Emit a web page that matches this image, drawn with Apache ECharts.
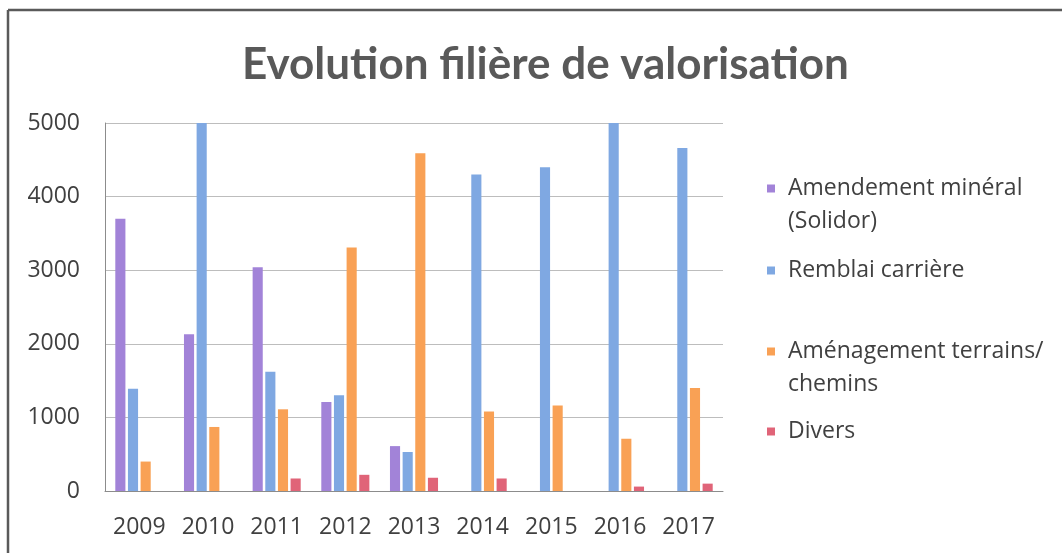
<!DOCTYPE html>
<html>
<head>
<meta charset="utf-8">
<script src="https://cdn.jsdelivr.net/npm/echarts@6/dist/echarts.min.js"></script>
<style>
html,body{margin:0;padding:0;background:#fff;}
#c{width:1062px;height:553px;}
</style>
</head>
<body>
<div id="c"></div>
<script>
const titleText = 'Evolution filière de valorisation';
const years = ['2009','2010','2011','2012','2013','2014','2015','2016','2017'];
const seriesNames = ['Amendement minéral\n(Solidor)', 'Remblai carrière', 'Aménagement terrains/\nchemins', 'Divers'];
const amendement = [3700, 2130, 3040, 1210, 610, null, null, null, null];
const remblai = [1390, 5000, 1620, 1300, 530, 4300, 4400, 5000, 4660];
const amenagement = [400, 870, 1110, 3310, 4590, 1080, 1160, 710, 1400];
const divers = [null, null, 170, 220, 180, 170, null, 60, 100];
const yTicks = [0, 1000, 2000, 3000, 4000, 5000];

const colors = ['#a283d8', '#7fa8e2', '#f9a155', '#e06478'];
const FONT = '"Open Sans", sans-serif';
const lineH = 33;

const chart = echarts.init(document.getElementById('c'), null, {renderer: 'canvas'});

function legendFor(idx, top) {
  const name = seriesNames[idx];
  return {
    data: [name],
    left: 767,
    top: top,
    padding: 0,
    orient: 'vertical',
    itemWidth: 8,
    itemHeight: 8,
    icon: 'rect',
    selectedMode: false,
    formatter: function (n) { return n.indexOf('\n') >= 0 ? ' \n' + n : n; },
    textStyle: {
      fontFamily: FONT,
      fontSize: 23,
      color: '#404040',
      lineHeight: lineH,
      padding: [0, 0, 0, 8]
    }
  };
}

chart.setOption({
  animation: false,
  backgroundColor: '#ffffff',
  color: colors,
  title: {
    text: titleText,
    left: 237,
    top: 38,
    textStyle: {
      fontFamily: 'Lato',
      fontWeight: 'bold',
      fontSize: 44,
      color: '#595959'
    }
  },
  graphic: [
    {type: 'line', shape: {x1: 8, y1: 10, x2: 1062, y2: 10}, style: {stroke: '#5a5a5a', lineWidth: 2.5}},
    {type: 'line', shape: {x1: 8, y1: 10, x2: 8, y2: 553}, style: {stroke: '#5a5a5a', lineWidth: 2.5}}
  ],
  legend: [
    legendFor(0, 139),
    legendFor(1, 254),
    legendFor(2, 302),
    legendFor(3, 415)
  ],
  grid: {left: 105, right: 339, top: 123, bottom: 62, containLabel: false},
  xAxis: {
    type: 'category',
    data: years,
    axisLine: {show: true, lineStyle: {color: '#8c8c8c', width: 1}},
    axisTick: {show: false},
    axisLabel: {fontFamily: FONT, fontSize: 23, color: '#404040', margin: 25}
  },
  yAxis: {
    type: 'value',
    min: yTicks[0],
    max: yTicks[yTicks.length - 1],
    interval: 1000,
    axisLine: {show: true, lineStyle: {color: '#8c8c8c', width: 1}},
    axisTick: {show: false},
    splitLine: {show: true, lineStyle: {color: '#bdbdbd', width: 1}},
    axisLabel: {fontFamily: FONT, fontSize: 23, color: '#404040', margin: 25,
      formatter: function (v) { return String(v); }}
  },
  series: [
    {name: seriesNames[0], type: 'bar', data: amendement, barGap: '25%', barCategoryGap: '30%'},
    {name: seriesNames[1], type: 'bar', data: remblai, barGap: '25%', barCategoryGap: '30%'},
    {name: seriesNames[2], type: 'bar', data: amenagement, barGap: '25%', barCategoryGap: '30%'},
    {name: seriesNames[3], type: 'bar', data: divers, barGap: '25%', barCategoryGap: '30%'}
  ]
});
</script>
</body>
</html>
